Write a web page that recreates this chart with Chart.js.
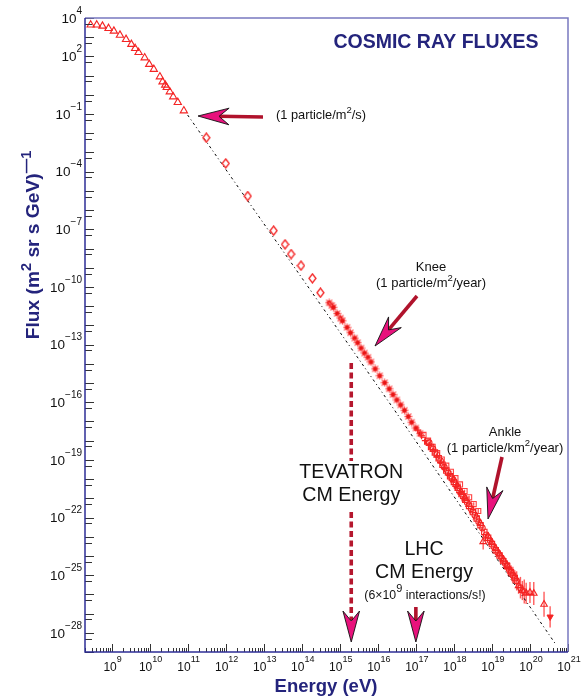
<!DOCTYPE html>
<html><head><meta charset="utf-8">
<script src="https://cdn.jsdelivr.net/npm/chart.js@4.4.1/dist/chart.umd.min.js"></script>
<style>html,body{margin:0;padding:0;background:#fff}canvas{display:block}</style>
</head><body>
<canvas id="c" width="583" height="696" style="width:583px;height:696px"></canvas>
<script>
// ---------- axis ranges and tick labels (values in eV and flux units) ----------
const xRange = [2e8, 1e21];
const yRange = [1e-29, 1e4];
const xTickExps = [9,10,11,12,13,14,15,16,17,18,19,20,21];
const yLabelExps = [4,2,-1,-4,-7,-10,-13,-16,-19,-22,-25,-28];

// ---------- data, as log10(E/eV) and log10(flux) ----------
const triLogE = [8.45,8.61,8.76,8.92,9.06,9.22,9.38,9.52,9.62,9.71,9.87,9.99,10.11,10.27,10.34,10.41,10.45,10.53,10.62,10.74,10.90];
const triLogF = [3.64,3.64,3.58,3.46,3.32,3.11,2.89,2.63,2.42,2.21,1.93,1.59,1.33,0.94,0.68,0.51,0.39,0.16,-0.10,-0.39,-0.83];

const diaLogE = [11.49,12.00,12.58,13.26,13.56,13.72,13.98,14.28,14.49];
const diaLogF = [-2.23,-3.57,-5.27,-7.07,-7.78,-8.29,-8.89,-9.55,-10.30];

const starLogE = [14.72,14.79,14.83,14.93,15.02,15.07,15.19,15.28,15.39,15.47,15.56,15.65,15.74,15.82,15.93,16.05,16.18,16.30,16.40,16.50,16.60,16.70,16.80,16.89,17.00,17.11];
const starLogF = [-10.82,-10.96,-11.06,-11.38,-11.62,-11.76,-12.10,-12.38,-12.66,-12.90,-13.18,-13.44,-13.66,-13.90,-14.26,-14.62,-14.98,-15.30,-15.60,-15.88,-16.14,-16.42,-16.74,-17.04,-17.34,-17.62];

const sqLogE = [17.30,17.40,17.50,17.60,17.70,17.80,17.90,18.00,18.10,18.20,18.30,18.40,18.50,18.60,18.70,18.80,18.90,19.00,19.10,19.20,19.30,19.40,19.50,19.60];
const sqLogF = [-18.05,-18.33,-18.62,-18.92,-19.25,-19.55,-19.85,-20.15,-20.45,-20.78,-21.08,-21.40,-21.72,-22.05,-22.40,-22.75,-23.05,-23.38,-23.70,-23.98,-24.27,-24.52,-24.85,-25.15];
const sqErr  = [0.03,0.03,0.03,0.03,0.03,0.03,0.04,0.04,0.04,0.05,0.05,0.06,0.06,0.07,0.08,0.09,0.10,0.12,0.14,0.16,0.18,0.22,0.26,0.32];

const sq2LogE = [17.20,17.32,17.44,17.56,17.68,17.80,17.92,18.04,18.16,18.28,18.40,18.52,18.64];
const sq2LogF = [-17.70,-18.00,-18.32,-18.65,-18.98,-19.30,-19.62,-19.95,-20.28,-20.62,-20.95,-21.30,-21.66];
const sq2Err  = [0.04,0.04,0.04,0.04,0.05,0.05,0.05,0.06,0.06,0.07,0.08,0.09,0.10];

const otLogE = [18.00,18.10,18.20,18.30,18.40,18.50,18.60,18.70,18.77,18.90,19.00,19.10,19.20,19.30,19.40,19.50,19.60,19.70,19.80,19.90,20.00,20.10,20.37];
const otLogF = [-20.05,-20.38,-20.70,-21.02,-21.33,-21.65,-21.98,-22.32,-23.26,-22.98,-23.30,-23.62,-23.90,-24.20,-24.50,-24.80,-25.10,-25.55,-25.80,-25.95,-25.90,-25.95,-26.52];
const otErr  = [0.04,0.04,0.05,0.05,0.06,0.06,0.07,0.08,0.40,0.12,0.14,0.16,0.20,0.24,0.28,0.32,0.36,0.42,0.50,0.55,0.55,0.60,0.65];

const ciLogE = [17.35,17.45,17.55,17.65,17.75,17.85,17.95,18.05,18.15,18.25,18.35,18.45,18.55,18.65,18.75,18.85,18.95,19.05,19.15,19.25,19.35,19.45,19.55,19.65,19.75,19.85];
const ciLogF = [-18.10,-18.42,-18.72,-19.05,-19.38,-19.68,-19.98,-20.30,-20.62,-20.92,-21.22,-21.55,-21.88,-22.22,-22.55,-22.90,-23.20,-23.52,-23.82,-24.10,-24.40,-24.70,-25.00,-25.30,-25.65,-25.85];
const ciErr  = [0.03,0.03,0.03,0.04,0.04,0.04,0.05,0.05,0.05,0.06,0.06,0.07,0.08,0.09,0.10,0.12,0.16,0.20,0.24,0.28,0.32,0.38,0.44,0.50,0.56,0.62];

const crLogE = [17.05,17.15,17.25,17.35,17.45,17.55,17.65,17.75,17.85,17.95,18.05,18.15,18.25];
const crLogF = [-17.45,-17.75,-18.00,-18.25,-18.55,-18.85,-19.15,-19.45,-19.78,-20.05,-20.38,-20.70,-21.00];
const crErr  = [0.04,0.04,0.04,0.04,0.04,0.05,0.05,0.05,0.06,0.06,0.07,0.08,0.09];

const limLogE = [20.53];
const limLogF = [-27.17];
const limErr  = [0.55];

const fitLogE = [11.0, 16.4, 20.66];
const fitLogF = [-1.05, -16.3, -28.55];

// collider energies (eV, fixed-target equivalent)
const tevatronE = 2e15;
const lhcE = 1e17;

// ---------- helpers ----------
const FF = '"Liberation Sans", Arial, Helvetica, sans-serif';
const NAVY = '#24247c';
const RED = '#f42424';
const pts = (le, lf) => le.map((e, i) => ({x: Math.pow(10, e), y: Math.pow(10, lf[i])}));

function makeDiamond() {
  const c = document.createElement('canvas'); c.width = 9; c.height = 11;
  const g = c.getContext('2d');
  g.strokeStyle = RED; g.lineWidth = 1.3;
  g.beginPath(); g.moveTo(4.5, 1); g.lineTo(8, 5.5); g.lineTo(4.5, 10); g.lineTo(1, 5.5); g.closePath(); g.stroke();
  return c;
}
function makeStar() {
  const c = document.createElement('canvas'); c.width = 9; c.height = 9;
  const g = c.getContext('2d');
  g.strokeStyle = '#ff6a6a'; g.lineWidth = 1.3;
  g.beginPath();
  g.moveTo(0.5, 4.5); g.lineTo(8.5, 4.5); g.moveTo(4.5, 0.5); g.lineTo(4.5, 8.5);
  g.moveTo(1.5, 1.5); g.lineTo(7.5, 7.5); g.moveTo(7.5, 1.5); g.lineTo(1.5, 7.5);
  g.stroke();
  g.fillStyle = '#e81414'; g.beginPath(); g.arc(4.5, 4.5, 2.2, 0, Math.PI * 2); g.fill();
  return c;
}

function rich(ctx, parts, x, y, align, size, supSize, weight, color, rise) {
  let w = 0;
  const ws = parts.map(p => {
    ctx.font = `${weight} ${p.sup ? supSize : size}px ${FF}`;
    const m = ctx.measureText(p.t).width; w += m; return m;
  });
  let cx = align === 'center' ? x - w / 2 : (align === 'right' ? x - w : x);
  ctx.textAlign = 'left'; ctx.textBaseline = 'middle'; ctx.fillStyle = color;
  parts.forEach((p, i) => {
    ctx.font = `${weight} ${p.sup ? supSize : size}px ${FF}`;
    ctx.fillText(p.t, cx, p.sup ? y - rise : y);
    cx += ws[i];
  });
}

function arrow(ctx, x0, y0, x1, y1, shaft) {
  const dx = x1 - x0, dy = y1 - y0, L = Math.hypot(dx, dy);
  const ux = dx / L, uy = dy / L, px = -uy, py = ux;
  const len = 31, hw = 8.3, notch = 10;
  const nx = x1 - ux * (len - notch), ny = y1 - uy * (len - notch);
  if (shaft) {
    ctx.strokeStyle = '#b0132c'; ctx.lineWidth = 3.6; ctx.lineCap = 'butt';
    ctx.beginPath(); ctx.moveTo(x0, y0); ctx.lineTo(nx, ny); ctx.stroke();
  }
  ctx.beginPath();
  ctx.moveTo(x1, y1);
  ctx.lineTo(x1 - ux * len + px * hw, y1 - uy * len + py * hw);
  ctx.lineTo(nx, ny);
  ctx.lineTo(x1 - ux * len - px * hw, y1 - uy * len - py * hw);
  ctx.closePath();
  ctx.fillStyle = '#e8127c'; ctx.fill();
  ctx.strokeStyle = '#111'; ctx.lineWidth = 0.9; ctx.lineJoin = 'miter'; ctx.stroke();
}

const errSeries = [
  {le: sqLogE, lf: sqLogF, er: sqErr},
  {le: sq2LogE, lf: sq2LogF, er: sq2Err},
  {le: otLogE, lf: otLogF, er: otErr},
  {le: ciLogE, lf: ciLogF, er: ciErr},
  {le: crLogE, lf: crLogF, er: crErr},
  {le: limLogE, lf: limLogF, er: limErr}
];

const deco = {
  id: 'deco',
  beforeDatasetsDraw(chart) {
    const ctx = chart.ctx, xs = chart.scales.x, ys = chart.scales.y;
    ctx.save();
    ctx.strokeStyle = '#ff5c5c'; ctx.lineWidth = 1.4;
    errSeries.forEach(s => {
      s.le.forEach((e, i) => {
        const x = xs.getPixelForValue(Math.pow(10, e));
        const yl = ys.getPixelForValue(Math.pow(10, s.lf[i] - s.er[i]));
        const yh = ys.getPixelForValue(Math.pow(10, s.lf[i] + s.er[i]));
        ctx.beginPath(); ctx.moveTo(x, yl); ctx.lineTo(x, yh); ctx.stroke();
      });
    });
    ctx.restore();
  },
  afterDraw(chart) {
    const ctx = chart.ctx, xs = chart.scales.x, ys = chart.scales.y, a = chart.chartArea;
    ctx.save();
    // ticks
    ctx.strokeStyle = '#333'; ctx.lineWidth = 1;
    for (let n = 8; n <= 21; n++) {
      for (let k = 1; k <= 9; k++) {
        const v = k * Math.pow(10, n);
        if (v < xRange[0] * 0.999 || v > xRange[1] * 1.001) continue;
        const x = Math.round(xs.getPixelForValue(v)) + 0.5;
        const len = k === 1 ? 8 : 4;
        ctx.beginPath(); ctx.moveTo(x, a.bottom); ctx.lineTo(x, a.bottom - len); ctx.stroke();
      }
    }
    for (let n = -29; n <= 4; n++) {
      const y = Math.round(ys.getPixelForValue(Math.pow(10, n))) + 0.5;
      ctx.beginPath(); ctx.moveTo(a.left, y); ctx.lineTo(a.left + 9, y); ctx.stroke();
      const vm = 5 * Math.pow(10, n - 1);
      if (vm > yRange[0]) {
        const ym = Math.round(ys.getPixelForValue(vm)) + 0.5;
        ctx.beginPath(); ctx.moveTo(a.left, ym); ctx.lineTo(a.left + 7, ym); ctx.stroke();
      }
    }
    // frame
    ctx.lineWidth = 1.5;
    ctx.strokeStyle = '#7878c0';
    ctx.beginPath(); ctx.moveTo(a.left, a.top); ctx.lineTo(a.right, a.top); ctx.lineTo(a.right, a.bottom); ctx.stroke();
    ctx.strokeStyle = '#2e2e96';
    ctx.beginPath(); ctx.moveTo(a.left, a.top); ctx.lineTo(a.left, a.bottom); ctx.lineTo(a.right, a.bottom); ctx.stroke();
    // tick labels
    xTickExps.forEach(e => {
      const x = xs.getPixelForValue(Math.pow(10, e));
      rich(ctx, [{t: '10'}, {t: String(e), sup: true}], x + 1, 668, 'center', 12, 9, 'normal', '#111', 8.5);
    });
    yLabelExps.forEach(e => {
      const y = ys.getPixelForValue(Math.pow(10, e));
      const s = e < 0 ? '\u2212' + (-e) : String(e);
      rich(ctx, [{t: '10'}, {t: s, sup: true}], 82, y + 1, 'right', 13.5, 10, 'normal', '#111', 8);
    });
    // titles
    ctx.fillStyle = NAVY; ctx.textAlign = 'center'; ctx.textBaseline = 'middle';
    ctx.font = `bold 19.5px ${FF}`;
    ctx.fillText('COSMIC RAY FLUXES', 436, 43);
    ctx.textBaseline = 'alphabetic';
    ctx.font = `bold 18.5px ${FF}`;
    ctx.fillText('Energy (eV)', 326, 692);
    ctx.save();
    ctx.translate(34, 245); ctx.rotate(-Math.PI / 2);
    rich(ctx, [{t: 'Flux (m'}, {t: '2', sup: true}, {t: ' sr s GeV)'}, {t: '\u20141', sup: true}], 0, 0, 'center', 19.2, 14.5, 'bold', NAVY, 7.5);
    ctx.restore();

    // annotations
    const T = '#111';
    arrow(ctx, 263, 117, 198, 116, true);
    rich(ctx, [{t: '(1 particle/m'}, {t: '2', sup: true}, {t: '/s)'}], 276, 115, 'left', 12.8, 9.5, 'normal', T, 5);

    rich(ctx, [{t: 'Knee'}], 431, 267, 'center', 13, 9.5, 'normal', T, 5);
    rich(ctx, [{t: '(1 particle/m'}, {t: '2', sup: true}, {t: '/year)'}], 431, 283, 'center', 13, 9.5, 'normal', T, 5);
    arrow(ctx, 417, 296, 375, 346, true);

    rich(ctx, [{t: 'Ankle'}], 505, 432, 'center', 13, 9.5, 'normal', T, 5);
    rich(ctx, [{t: '(1 particle/km'}, {t: '2', sup: true}, {t: '/year)'}], 505, 448, 'center', 13, 9.5, 'normal', T, 5);
    arrow(ctx, 502, 457, 488, 519, true);

    // TEVATRON
    const xt = xs.getPixelForValue(tevatronE);
    ctx.strokeStyle = '#b5172e'; ctx.lineWidth = 3.6; ctx.setLineDash([6, 3.5]);
    ctx.beginPath(); ctx.moveTo(xt, 363); ctx.lineTo(xt, 461); ctx.moveTo(xt, 512); ctx.lineTo(xt, 620); ctx.stroke();
    ctx.setLineDash([]);
    arrow(ctx, xt, 600, xt, 642, false);
    rich(ctx, [{t: 'TEVATRON'}], xt, 473, 'center', 19.6, 12, 'normal', T, 7);
    rich(ctx, [{t: 'CM Energy'}], xt, 496, 'center', 19.6, 12, 'normal', T, 7);

    // LHC
    const xl = xs.getPixelForValue(lhcE);
    arrow(ctx, xl, 607, xl, 642, true);
    rich(ctx, [{t: 'LHC'}], 424, 550, 'center', 19.6, 12, 'normal', T, 7);
    rich(ctx, [{t: 'CM Energy'}], 424, 573, 'center', 19.6, 12, 'normal', T, 7);
    rich(ctx, [{t: '(6\u00d710'}, {t: '9', sup: true}, {t: ' interactions/s!)'}], 425, 596, 'center', 12.3, 11, 'normal', T, 7);
    ctx.restore();
  }
};

const open = 'rgba(255,255,255,0)';
new Chart(document.getElementById('c'), {
  type: 'scatter',
  data: {
    datasets: [
      {label: 'limit', data: pts(limLogE, limLogF), pointStyle: 'triangle', rotation: 180, pointRadius: 3.6, borderColor: RED, backgroundColor: RED, borderWidth: 1},
      {label: 'crosses', data: pts(crLogE, crLogF), pointStyle: 'cross', pointRadius: 3.5, borderColor: RED, borderWidth: 1.3},
      {label: 'circles', data: pts(ciLogE, ciLogF), pointStyle: 'circle', pointRadius: 2.8, borderColor: RED, backgroundColor: open, borderWidth: 1.1},
      {label: 'open triangles', data: pts(otLogE, otLogF), pointStyle: 'triangle', pointRadius: 3.8, borderColor: RED, backgroundColor: open, borderWidth: 1.1},
      {label: 'squares', data: pts(sqLogE, sqLogF), pointStyle: 'rect', pointRadius: 3.8, borderColor: RED, backgroundColor: open, borderWidth: 1.1},
      {label: 'squares 2', data: pts(sq2LogE, sq2LogF), pointStyle: 'rect', pointRadius: 3.6, borderColor: '#ff4040', backgroundColor: open, borderWidth: 1.1},
      {label: 'stars', data: pts(starLogE, starLogF), pointStyle: makeStar(), pointRadius: 4},
      {label: 'diamonds', data: pts(diaLogE, diaLogF), pointStyle: makeDiamond(), pointRadius: 4},
      {label: 'triangles', data: pts(triLogE, triLogF), pointStyle: 'triangle', pointRadius: 4.2, borderColor: RED, backgroundColor: open, borderWidth: 1.1},
      {label: 'fit', type: 'line', data: pts(fitLogE, fitLogF), borderColor: '#000', borderWidth: 1, borderDash: [2.5, 3, 1, 3], pointRadius: 0, fill: false, showLine: true}
    ]
  },
  options: {
    responsive: false,
    animation: false,
    layout: {padding: {left: 85, top: 18, right: 15, bottom: 44}},
    plugins: {legend: {display: false}, tooltip: {enabled: false}},
    scales: {
      x: {type: 'logarithmic', min: xRange[0], max: xRange[1], display: false},
      y: {type: 'logarithmic', min: yRange[0], max: yRange[1], display: false}
    }
  },
  plugins: [deco]
});
</script>
</body></html>
